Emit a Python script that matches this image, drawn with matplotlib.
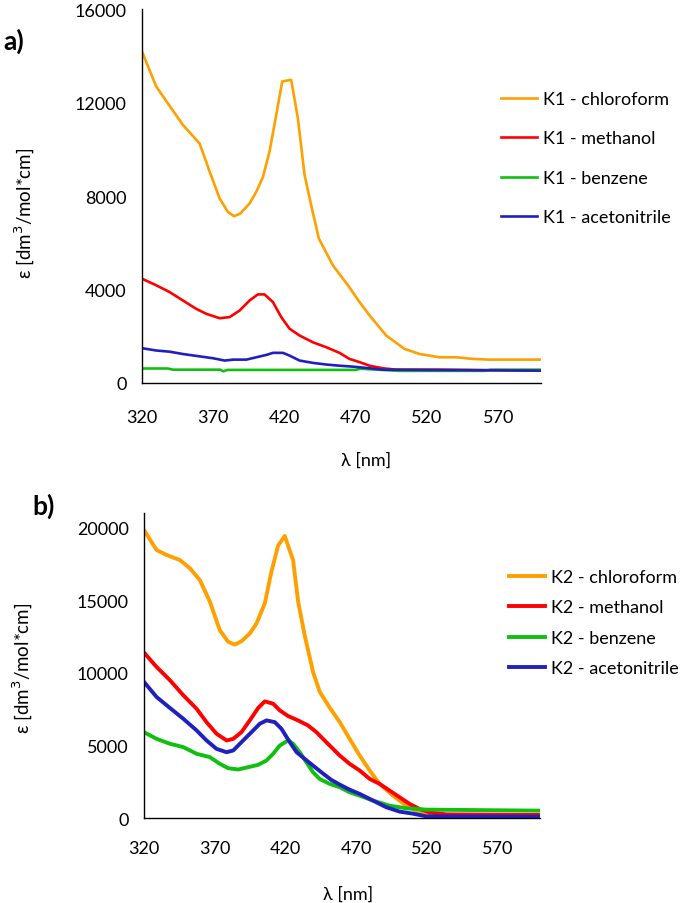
import matplotlib
matplotlib.use("Agg")
import matplotlib.pyplot as plt

plt.rcParams['font.family'] = ['Lato', 'DejaVu Sans']

# ---- panel a) K1 ----
k1_chl_x = [320, 330, 348.7, 360.4, 367.5, 374.5, 380.3, 384.5, 389, 395.5, 400.2, 404.9, 409.5, 414.2,
            418.4, 424.7, 429.4, 434.1, 438.7, 444.1, 454, 464.5, 472.7, 479.7, 491.4, 504.2, 514.8,
            528.8, 540.4, 552.1, 563.8, 600]
k1_chl_y = [14180, 12680, 11040, 10250, 9040, 7890, 7320, 7135, 7250, 7680, 8180, 8820, 9900, 11470,
            12900, 12970, 11320, 8890, 7610, 6180, 5030, 4180, 3460, 2890, 2030, 1460, 1240,
            1100, 1100, 1030, 1000, 1000]

k1_met_x = [320, 330, 339.4, 348.7, 358.1, 365.1, 374.5, 381.5, 388.5, 395.5, 401.3, 406, 411.9, 417.7,
            423.6, 430.6, 440, 449.3, 458.6, 465.6, 472.8, 479.7, 489, 498.4, 528.8, 600]
k1_met_y = [4460, 4180, 3890, 3530, 3170, 2960, 2770, 2820, 3100, 3530, 3790, 3790, 3460, 2820,
            2320, 2030, 1740, 1530, 1290, 1030, 890, 740, 630, 570, 570, 530]

k1_ben_x = [320, 338, 342, 375, 377, 380, 470, 473, 500, 560, 565, 600]
k1_ben_y = [620, 620, 570, 570, 500, 560, 560, 610, 520, 520, 570, 570]

k1_ace_x = [320, 330, 339.4, 348.7, 360.4, 369.8, 378, 383.9, 393.2, 400.2, 407.2, 411.9, 418.9,
            423.6, 430.6, 440, 449.3, 458.6, 468, 479.7, 489, 600]
k1_ace_y = [1490, 1390, 1340, 1240, 1140, 1060, 960, 1000, 1000, 1100, 1200, 1290, 1290,
            1170, 960, 860, 790, 740, 700, 630, 570, 530]

# ---- panel b) K2 ----
k2_chl_x = [320, 328.9, 336, 345.4, 352.5, 359.5, 366.6, 373.6, 379.5, 384.2, 388.9, 394.8, 399.5,
            405.4, 410.1, 414.8, 419.5, 425.4, 429, 433.6, 439.5, 444.2, 451.3, 458.4, 465.4, 472.5,
            479.6, 486.6, 496, 505.4, 514.8, 524.3, 540.7, 600]
k2_chl_y = [19830, 18450, 18110, 17760, 17190, 16380, 14890, 12930, 12130, 11940, 12170, 12700, 13390,
            14770, 16960, 18750, 19420, 17760, 14890, 12590, 10060, 8700, 7600, 6600, 5450, 4300,
            3270, 2350, 1540, 850, 390, 210, 115, 115]

k2_met_x = [320, 328.9, 338.4, 347.8, 357.2, 364.2, 371.3, 378.4, 383.1, 388.9, 394.8, 400.7, 405.4,
            411.3, 416, 421.9, 428.9, 436, 441.9, 448.9, 458.4, 465.4, 472.5, 479.6, 486.6, 493.6,
            500.7, 507.8, 514.8, 521.9, 533.6, 600]
k2_met_y = [11390, 10400, 9480, 8450, 7520, 6600, 5800, 5340, 5450, 5910, 6720, 7570, 8030,
            7870, 7410, 7020, 6720, 6370, 5910, 5220, 4300, 3730, 3270, 2690, 2350, 1890,
            1430, 970, 620, 390, 250, 210]

k2_ben_x = [320, 328.9, 338.4, 347.8, 357.2, 366.6, 373.6, 379.5, 386.6, 393.6, 400.7, 406.6, 411.3,
            416, 421.9, 425.4, 430.1, 434.8, 439.5, 444.2, 451.3, 458.4, 465.4, 472.5, 481.9, 493.6,
            505.4, 519.5, 600]
k2_ben_y = [5910, 5450, 5110, 4880, 4420, 4190, 3730, 3430, 3340, 3500, 3660, 3960, 4420,
            4990, 5340, 5110, 4530, 3840, 3150, 2690, 2350, 2120, 1770, 1540, 1200, 850,
            670, 575, 506]

k2_ace_x = [320, 328.9, 338.4, 347.8, 357.2, 364.2, 371.3, 378.4, 383.1, 388.9, 396, 401.9, 406.6,
            412.5, 417.2, 423.1, 427.9, 433.6, 439.5, 445.4, 452.5, 458.4, 465.4, 472.5, 481.9, 491.3,
            500.7, 510.1, 519.5, 600]
k2_ace_y = [9370, 8330, 7570, 6830, 6030, 5340, 4760, 4530, 4650, 5220, 5910, 6490, 6720,
            6600, 6140, 5220, 4530, 4070, 3610, 3150, 2620, 2300, 1950, 1660, 1200, 740,
            440, 300, 115, 90]

x_ticks = [320, 370, 420, 470, 520, 570]
solvents = ["chloroform", "methanol", "benzene", "acetonitrile"]
colors = ["#FFA000", "#FF0000", "#10C010", "#2020C0"]

fig = plt.figure(figsize=(6.81, 9.04), dpi=100)
W, H = 681, 904
FS = 13


def style_axes(ax, ymax, yticks):
    ax.set_xlim(320, 600)
    ax.set_ylim(0, ymax)
    ax.set_xticks(x_ticks)
    ax.set_yticks(yticks)
    ax.spines['top'].set_visible(False)
    ax.spines['right'].set_visible(False)
    for s in ('left', 'bottom'):
        ax.spines[s].set_linewidth(1.0)
        ax.spines[s].set_color('black')
    ax.tick_params(length=0, labelsize=FS)
    ax.tick_params(axis='y', pad=11)


# panel a
ax1 = fig.add_axes([142 / W, 1 - 384 / H, 399 / W, 374 / H])
series1 = [(k1_chl_x, k1_chl_y), (k1_met_x, k1_met_y), (k1_ben_x, k1_ben_y), (k1_ace_x, k1_ace_y)]
for (x, y), c, s in zip(series1, colors, solvents):
    ax1.plot(x, y, color=c, lw=1.9, label=f"K1 - {s}")
style_axes(ax1, 16000, [0, 4000, 8000, 12000, 16000])
ax1.tick_params(axis='x', pad=19)
ax1.set_xlabel("λ [nm]", fontsize=FS)
ax1.xaxis.set_label_coords(0.561, -0.184)
ax1.set_ylabel("ε [dm$^3$/mol*cm]", fontsize=FS + 0.5)
ax1.yaxis.set_label_coords(-0.263, 0.457)
ax1.legend(loc='upper left', bbox_to_anchor=(501 / W, 1 - 92 / H), bbox_transform=fig.transFigure,
           frameon=False, fontsize=FS, handlelength=2.0, handletextpad=0.3,
           labelspacing=1.3, borderpad=0, borderaxespad=0)
fig.text(3 / W, 1 - 41 / H, "a)", fontsize=19, fontweight='bold', va='center', ha='left')

# panel b
ax2 = fig.add_axes([144 / W, 1 - 819 / H, 396 / W, 305 / H])
series2 = [(k2_chl_x, k2_chl_y), (k2_met_x, k2_met_y), (k2_ben_x, k2_ben_y), (k2_ace_x, k2_ace_y)]
for (x, y), c, s in zip(series2, colors, solvents):
    ax2.plot(x, y, color=c, lw=2.8, label=f"K2 - {s}")
style_axes(ax2, 21000, [0, 5000, 10000, 15000, 20000])
ax2.tick_params(axis='x', pad=16)
ax2.set_xlabel("λ [nm]", fontsize=FS)
ax2.xaxis.set_label_coords(0.515, -0.223)
ax2.set_ylabel("ε [dm$^3$/mol*cm]", fontsize=FS + 0.5)
ax2.yaxis.set_label_coords(-0.275, 0.495)
ax2.legend(loc='upper left', bbox_to_anchor=(509 / W, 1 - 570 / H), bbox_transform=fig.transFigure,
           frameon=False, fontsize=FS, handlelength=2.0, handletextpad=0.3,
           labelspacing=0.8, borderpad=0, borderaxespad=0)
fig.text(32 / W, 1 - 506 / H, "b)", fontsize=19, fontweight='bold', va='center', ha='left')

fig.savefig("out.png", dpi=100, facecolor='white')
